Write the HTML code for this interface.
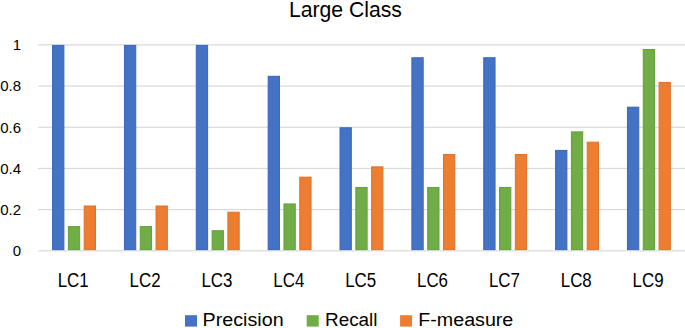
<!DOCTYPE html><html><head><meta charset="utf-8"><style>html,body{margin:0;padding:0;background:#fff;width:685px;height:328px;overflow:hidden}svg{display:block}text{font-family:"Liberation Sans",sans-serif;fill:#000}</style></head><body>
<svg width="685" height="328" viewBox="0 0 685 328">
<rect width="685" height="328" fill="#fff"/>
<rect x="38.10" y="250.20" width="646.90" height="1.2" fill="#D9D9D9"/>
<rect x="38.10" y="209.02" width="646.90" height="1.2" fill="#D9D9D9"/>
<rect x="38.10" y="167.84" width="646.90" height="1.2" fill="#D9D9D9"/>
<rect x="38.10" y="126.66" width="646.90" height="1.2" fill="#D9D9D9"/>
<rect x="38.10" y="85.48" width="646.90" height="1.2" fill="#D9D9D9"/>
<rect x="38.10" y="44.30" width="646.90" height="1.2" fill="#D9D9D9"/>
<rect x="52.58" y="45.40" width="11.3" height="204.20" fill="#4472C4" stroke="#3A66B8" stroke-width="1"/>
<rect x="68.38" y="226.59" width="11.3" height="23.01" fill="#70AD47" stroke="#63A03A" stroke-width="1"/>
<rect x="84.18" y="206.00" width="11.3" height="43.60" fill="#ED7D31" stroke="#E0702A" stroke-width="1"/>
<rect x="124.44" y="45.40" width="11.3" height="204.20" fill="#4472C4" stroke="#3A66B8" stroke-width="1"/>
<rect x="140.24" y="226.59" width="11.3" height="23.01" fill="#70AD47" stroke="#63A03A" stroke-width="1"/>
<rect x="156.04" y="206.00" width="11.3" height="43.60" fill="#ED7D31" stroke="#E0702A" stroke-width="1"/>
<rect x="196.30" y="45.40" width="11.3" height="204.20" fill="#4472C4" stroke="#3A66B8" stroke-width="1"/>
<rect x="212.10" y="230.71" width="11.3" height="18.89" fill="#70AD47" stroke="#63A03A" stroke-width="1"/>
<rect x="227.90" y="212.18" width="11.3" height="37.42" fill="#ED7D31" stroke="#E0702A" stroke-width="1"/>
<rect x="268.16" y="76.29" width="11.3" height="173.31" fill="#4472C4" stroke="#3A66B8" stroke-width="1"/>
<rect x="283.96" y="203.94" width="11.3" height="45.66" fill="#70AD47" stroke="#63A03A" stroke-width="1"/>
<rect x="299.76" y="177.18" width="11.3" height="72.42" fill="#ED7D31" stroke="#E0702A" stroke-width="1"/>
<rect x="340.02" y="127.76" width="11.3" height="121.84" fill="#4472C4" stroke="#3A66B8" stroke-width="1"/>
<rect x="355.82" y="187.47" width="11.3" height="62.13" fill="#70AD47" stroke="#63A03A" stroke-width="1"/>
<rect x="371.62" y="166.88" width="11.3" height="82.72" fill="#ED7D31" stroke="#E0702A" stroke-width="1"/>
<rect x="411.88" y="57.75" width="11.3" height="191.85" fill="#4472C4" stroke="#3A66B8" stroke-width="1"/>
<rect x="427.68" y="187.47" width="11.3" height="62.13" fill="#70AD47" stroke="#63A03A" stroke-width="1"/>
<rect x="443.48" y="154.53" width="11.3" height="95.07" fill="#ED7D31" stroke="#E0702A" stroke-width="1"/>
<rect x="483.74" y="57.75" width="11.3" height="191.85" fill="#4472C4" stroke="#3A66B8" stroke-width="1"/>
<rect x="499.54" y="187.47" width="11.3" height="62.13" fill="#70AD47" stroke="#63A03A" stroke-width="1"/>
<rect x="515.34" y="154.53" width="11.3" height="95.07" fill="#ED7D31" stroke="#E0702A" stroke-width="1"/>
<rect x="555.60" y="150.41" width="11.3" height="99.19" fill="#4472C4" stroke="#3A66B8" stroke-width="1"/>
<rect x="571.40" y="131.88" width="11.3" height="117.72" fill="#70AD47" stroke="#63A03A" stroke-width="1"/>
<rect x="587.20" y="142.17" width="11.3" height="107.43" fill="#ED7D31" stroke="#E0702A" stroke-width="1"/>
<rect x="627.46" y="107.17" width="11.3" height="142.43" fill="#4472C4" stroke="#3A66B8" stroke-width="1"/>
<rect x="643.26" y="49.52" width="11.3" height="200.08" fill="#70AD47" stroke="#63A03A" stroke-width="1"/>
<rect x="659.06" y="82.46" width="11.3" height="167.14" fill="#ED7D31" stroke="#E0702A" stroke-width="1"/>
<text x="21" y="256.10" font-size="15" text-anchor="end">0</text>
<text x="21" y="214.92" font-size="15" text-anchor="end">0.2</text>
<text x="21" y="173.74" font-size="15" text-anchor="end">0.4</text>
<text x="21" y="132.56" font-size="15" text-anchor="end">0.6</text>
<text x="21" y="91.38" font-size="15" text-anchor="end">0.8</text>
<text x="21" y="50.20" font-size="15" text-anchor="end">1</text>
<text x="73.23" y="286.5" font-size="19.5" text-anchor="middle" textLength="31" lengthAdjust="spacingAndGlyphs">LC1</text>
<text x="145.09" y="286.5" font-size="19.5" text-anchor="middle" textLength="31" lengthAdjust="spacingAndGlyphs">LC2</text>
<text x="216.95" y="286.5" font-size="19.5" text-anchor="middle" textLength="31" lengthAdjust="spacingAndGlyphs">LC3</text>
<text x="288.81" y="286.5" font-size="19.5" text-anchor="middle" textLength="31" lengthAdjust="spacingAndGlyphs">LC4</text>
<text x="360.67" y="286.5" font-size="19.5" text-anchor="middle" textLength="31" lengthAdjust="spacingAndGlyphs">LC5</text>
<text x="432.53" y="286.5" font-size="19.5" text-anchor="middle" textLength="31" lengthAdjust="spacingAndGlyphs">LC6</text>
<text x="504.39" y="286.5" font-size="19.5" text-anchor="middle" textLength="31" lengthAdjust="spacingAndGlyphs">LC7</text>
<text x="576.25" y="286.5" font-size="19.5" text-anchor="middle" textLength="31" lengthAdjust="spacingAndGlyphs">LC8</text>
<text x="648.11" y="286.5" font-size="19.5" text-anchor="middle" textLength="31" lengthAdjust="spacingAndGlyphs">LC9</text>
<text x="345.4" y="17" font-size="22" text-anchor="middle" textLength="113" lengthAdjust="spacingAndGlyphs">Large Class</text>
<rect x="185" y="315.2" width="12" height="11.4" fill="#4472C4"/>
<text x="202.6" y="326.3" font-size="18" textLength="81" lengthAdjust="spacingAndGlyphs">Precision</text>
<rect x="306.7" y="315.2" width="12" height="11.4" fill="#70AD47"/>
<text x="325" y="326.3" font-size="18" textLength="52.5" lengthAdjust="spacingAndGlyphs">Recall</text>
<rect x="400.1" y="315.2" width="12" height="11.4" fill="#ED7D31"/>
<text x="418.3" y="326.3" font-size="18" textLength="95" lengthAdjust="spacingAndGlyphs">F-measure</text>
</svg></body></html>
